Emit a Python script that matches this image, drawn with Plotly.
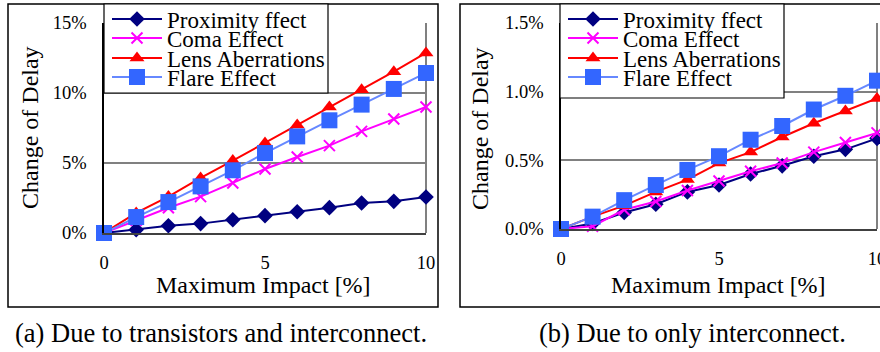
import plotly.graph_objects as go

W, H = 880, 352

x_vals = [0, 1, 2, 3, 4, 5, 6, 7, 8, 9, 10]
series_names = ["Proximity ffect", "Coma Effect", "Lens Aberrations", "Flare Effect"]

left_prox = [0, 0.24, 0.52, 0.67, 0.95, 1.24, 1.52, 1.81, 2.14, 2.26, 2.57]
left_coma = [0, 0.90, 1.80, 2.60, 3.57, 4.57, 5.43, 6.24, 7.26, 8.14, 9.00]
left_lens = [0, 1.43, 2.60, 3.93, 5.17, 6.43, 7.71, 9.00, 10.24, 11.52, 12.86]
left_flare = [0, 1.14, 2.21, 3.33, 4.48, 5.71, 6.90, 8.05, 9.17, 10.29, 11.43]

right_prox = [0, 0.04, 0.12, 0.18, 0.27, 0.32, 0.40, 0.46, 0.53, 0.58, 0.66]
right_coma = [0, 0.02, 0.14, 0.20, 0.28, 0.35, 0.42, 0.48, 0.56, 0.63, 0.70]
right_lens = [0, 0.09, 0.17, 0.27, 0.36, 0.48, 0.56, 0.67, 0.77, 0.86, 0.95]
right_flare = [0, 0.09, 0.21, 0.32, 0.43, 0.53, 0.65, 0.75, 0.87, 0.97, 1.08]

left_yticks = [0, 5, 10, 15]
left_ytick_labels = ["0%", "5%", "10%", "15%"]
right_yticks = [0.0, 0.5, 1.0, 1.5]
right_ytick_labels = ["0.0%", "0.5%", "1.0%", "1.5%"]
x_ticks = [0, 5, 10]
x_tick_labels = ["0", "5", "10"]

caption_a = "(a) Due to transistors and interconnect."
caption_b = "(b) Due to only interconnect."
y_title = "Change of Delay"
x_title = "Maximum Impact [%]"

FONT = "Liberation Serif, Times New Roman, serif"

styles = [
    dict(line=dict(color="#000080", width=2),
         marker=dict(symbol="diamond", size=12, color="#000080")),
    dict(line=dict(color="#FF00FF", width=2),
         marker=dict(symbol="x-thin", size=11, color="#FF00FF",
                     line=dict(color="#FF00FF", width=2))),
    dict(line=dict(color="#FF0000", width=2),
         marker=dict(symbol="triangle-up", size=13, color="#FF0000")),
    dict(line=dict(color="#6688FF", width=2),
         marker=dict(symbol="square", size=16, color="#3366FF")),
]


def px_x(p):
    return p / W


def px_y(p):
    return 1 - p / H


fig = go.Figure()

left_series = [left_prox, left_coma, left_lens, left_flare]
right_series = [right_prox, right_coma, right_lens, right_flare]
row_centers = [19, 38, 58, 77]

legend_layouts = {}
for i, (name, ys, st) in enumerate(zip(series_names, left_series, styles)):
    lid = "legend" if i == 0 else "legend%d" % (i + 1)
    fig.add_trace(go.Scatter(x=x_vals, y=ys, name=name, mode="lines+markers",
                             xaxis="x", yaxis="y", legend=lid,
                             cliponaxis=False, **st))
    legend_layouts[lid] = (107, row_centers[i])
for i, (name, ys, st) in enumerate(zip(series_names, right_series, styles)):
    lid = "legend%d" % (i + 5)
    fig.add_trace(go.Scatter(x=x_vals, y=ys, name=name, mode="lines+markers",
                             xaxis="x2", yaxis="y2", legend=lid,
                             cliponaxis=False, **st))
    legend_layouts[lid] = (563, row_centers[i])

axis_font = dict(family=FONT, size=18.5, color="black")

common_x = dict(range=[0, 10], tickvals=x_ticks, ticktext=x_tick_labels,
                showgrid=False, zeroline=False, automargin=False,
                showline=True, linecolor="#404040", linewidth=1.5,
                ticks="outside", ticklen=12, tickcolor="rgba(0,0,0,0)",
                tickfont=axis_font, ticklabeloverflow="allow")
common_y = dict(showgrid=True, gridcolor="#808080", gridwidth=1.5, zeroline=False,
                showline=True, linecolor="black", linewidth=1.5, automargin=False,
                ticks="outside", ticklen=12, tickcolor="rgba(0,0,0,0)",
                tickfont=axis_font)

fig.update_layout(
    width=W, height=H,
    margin=dict(l=0, r=0, t=0, b=0, autoexpand=False),
    paper_bgcolor="white", plot_bgcolor="white",
    font=dict(family=FONT, color="black"),
    xaxis=dict(domain=[px_x(104), px_x(426)], anchor="y", **common_x),
    yaxis=dict(domain=[px_y(233), px_y(23)], anchor="x", range=[0, 15],
               tickvals=left_yticks, ticktext=left_ytick_labels, **common_y),
    xaxis2=dict(domain=[px_x(561), px_x(877)], anchor="y2", **common_x),
    yaxis2=dict(domain=[px_y(229), px_y(23)], anchor="x2", range=[0, 1.5],
                tickvals=right_yticks, ticktext=right_ytick_labels, **common_y),
    showlegend=True,
)

for lid, (lx, ly) in legend_layouts.items():
    fig.update_layout({lid: dict(
        x=px_x(lx), y=px_y(ly), xanchor="left", yanchor="middle",
        xref="container", yref="container",
        bgcolor="rgba(0,0,0,0)", borderwidth=0,
        font=dict(family=FONT, size=23, color="black"),
        itemwidth=50, tracegroupgap=0)})

shapes = [
    # outer frames
    dict(type="rect", xref="paper", yref="paper",
         x0=px_x(8), x1=px_x(438), y0=px_y(307), y1=px_y(4),
         line=dict(color="black", width=1.5), layer="below"),
    dict(type="rect", xref="paper", yref="paper",
         x0=px_x(460), x1=1.05, y0=px_y(307), y1=px_y(4),
         line=dict(color="black", width=1.5), layer="below"),
    # right borders of plot areas
    dict(type="line", xref="x domain", yref="y domain", x0=1, x1=1, y0=0, y1=1,
         line=dict(color="#808080", width=2), layer="below"),
    dict(type="line", xref="x2 domain", yref="y2 domain", x0=1, x1=1, y0=0, y1=1,
         line=dict(color="#808080", width=2), layer="below"),
    # legend boxes
    dict(type="rect", xref="paper", yref="paper",
         x0=px_x(104), x1=px_x(328), y0=px_y(93), y1=px_y(4),
         fillcolor="white", line=dict(color="black", width=1.2), layer="above"),
    dict(type="rect", xref="paper", yref="paper",
         x0=px_x(560), x1=px_x(784), y0=px_y(98), y1=px_y(4),
         fillcolor="white", line=dict(color="black", width=1.2), layer="above"),
]
fig.update_layout(shapes=shapes)

title_font = dict(family=FONT, size=24, color="black")
cap_font = dict(family=FONT, size=26.5, color="black")


def ann(text, x, y, font, angle=0):
    return dict(text=text, xref="paper", yref="paper", x=px_x(x), y=px_y(y),
                xanchor="center", yanchor="middle", textangle=angle,
                showarrow=False, font=font)


annotations = [
    ann(y_title, 30, 128, title_font, -90),
    ann(y_title, 480, 128, title_font, -90),
    ann(x_title, 263, 285, title_font),
    ann(x_title, 718, 285, title_font),
    ann(caption_a, 221, 333, cap_font),
    ann(caption_b, 692, 333, cap_font),
]
fig.update_layout(annotations=annotations)

fig.write_html(
    "out.html",
    config={"displayModeBar": False},
    post_script="document.body.style.margin='0';document.body.style.overflow='hidden';",
)
